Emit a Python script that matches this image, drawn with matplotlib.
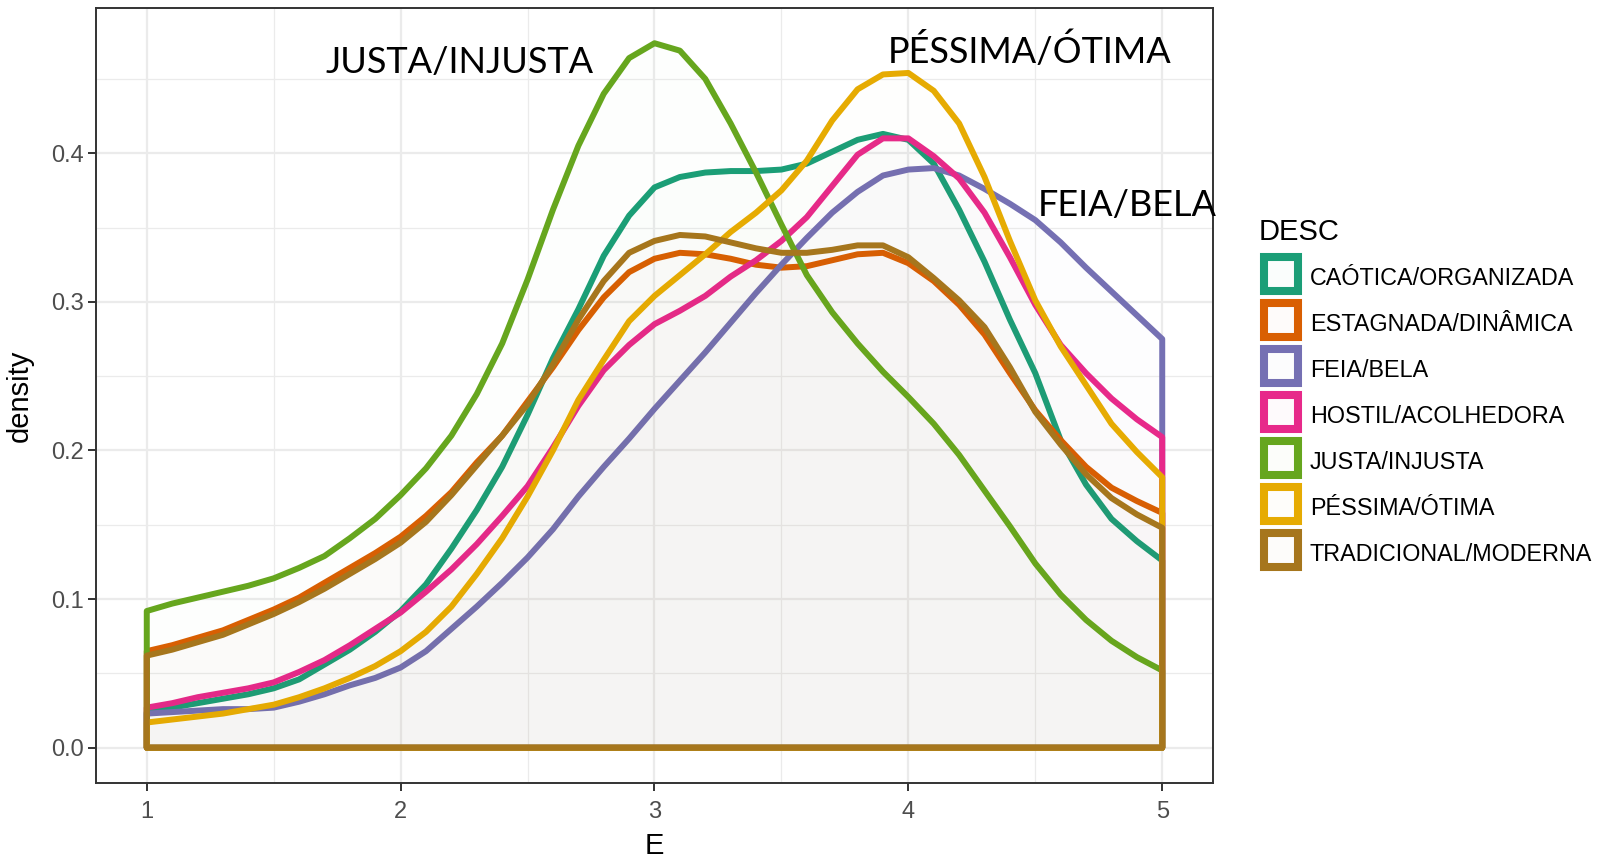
import matplotlib
matplotlib.use('Agg')
from matplotlib import pyplot as plt
from matplotlib.patches import Rectangle
from matplotlib.colors import to_rgba
from matplotlib.ticker import MultipleLocator, FormatStrFormatter

plt.rcParams['font.family'] = ['Liberation Sans', 'DejaVu Sans']

E = [1.0, 1.1, 1.2, 1.3, 1.4, 1.5, 1.6, 1.7, 1.8, 1.9,
     2.0, 2.1, 2.2, 2.3, 2.4, 2.5, 2.6, 2.7, 2.8, 2.9,
     3.0, 3.1, 3.2, 3.3, 3.4, 3.5, 3.6, 3.7, 3.8, 3.9,
     4.0, 4.1, 4.2, 4.3, 4.4, 4.5, 4.6, 4.7, 4.8, 4.9, 5.0]

desc = ['CAÓTICA/ORGANIZADA', 'ESTAGNADA/DINÂMICA', 'FEIA/BELA', 'HOSTIL/ACOLHEDORA',
        'JUSTA/INJUSTA', 'PÉSSIMA/ÓTIMA', 'TRADICIONAL/MODERNA']
colors = ['#1B9E77', '#D95F02', '#7570B3', '#E7298A', '#66A61E', '#E6AB02', '#A6761D']

caotica = [.024, .027, .030, .033, .036, .040, .046, .056, .066, .078,
           .092, .110, .134, .160, .189, .224, .262, .295, .331, .358,
           .377, .384, .387, .388, .388, .389, .393, .401, .409, .413,
           .409, .393, .362, .327, .288, .252, .207, .177, .154, .139, .126]
estagnada = [.065, .069, .074, .079, .086, .093, .101, .111, .121, .131,
             .142, .156, .172, .192, .210, .233, .256, .281, .303, .320,
             .329, .333, .332, .329, .325, .323, .324, .328, .332, .333,
             .326, .314, .298, .278, .252, .227, .207, .189, .175, .166, .158]
feia = [.023, .024, .025, .026, .026, .027, .031, .036, .042, .047,
        .054, .065, .080, .095, .111, .128, .147, .169, .189, .208,
        .228, .247, .266, .286, .306, .325, .343, .360, .374, .385,
        .389, .390, .385, .376, .366, .355, .340, .323, .307, .291, .275]
hostil = [.027, .030, .034, .037, .040, .044, .051, .059, .069, .080,
          .091, .105, .120, .137, .156, .176, .202, .230, .254, .271,
          .285, .294, .304, .317, .328, .341, .357, .378, .399, .410,
          .410, .398, .383, .360, .330, .298, .271, .252, .235, .221, .209]
justa = [.092, .097, .101, .105, .109, .114, .121, .129, .141, .154,
         .170, .188, .210, .238, .272, .315, .362, .405, .440, .464,
         .474, .469, .450, .420, .387, .352, .318, .293, .272, .253,
         .236, .218, .197, .173, .149, .124, .103, .086, .072, .061, .052]
pessima = [.017, .019, .021, .023, .026, .029, .034, .040, .047, .055,
           .065, .078, .095, .117, .141, .169, .200, .234, .261, .287,
           .304, .318, .332, .347, .360, .375, .395, .422, .443, .453,
           .454, .442, .420, .384, .341, .301, .270, .244, .218, .199, .182]
tradicional = [.062, .066, .071, .076, .083, .090, .098, .107, .117, .127,
               .138, .152, .170, .190, .210, .231, .258, .288, .314, .333,
               .341, .345, .344, .340, .336, .333, .333, .335, .338, .338,
               .330, .316, .301, .283, .256, .226, .204, .184, .168, .157, .148]
series = [caotica, estagnada, feia, hostil, justa, pessima, tradicional]

W, H = 1604, 865
fig = plt.figure(figsize=(W/100, H/100), dpi=100)
ax = fig.add_axes([96/W, 82/H, 1117/W, 775/H])

for d, col in zip(series, colors):
    xs = [E[0]] + E + [E[-1]]
    ys = [0] + d + [0]
    ax.fill(xs, ys, facecolor=to_rgba(col, 0.008), edgecolor=col, linewidth=4.3,
            joinstyle='round')

ax.set_xlim(0.8, 5.2)
ax.set_ylim(-0.0237, 0.4977)
ax.xaxis.set_major_locator(MultipleLocator(1))
ax.xaxis.set_minor_locator(MultipleLocator(0.5))
ax.yaxis.set_major_locator(MultipleLocator(0.1))
ax.yaxis.set_minor_locator(MultipleLocator(0.05))
ax.yaxis.set_major_formatter(FormatStrFormatter('%.1f'))
ax.set_axisbelow(True)
ax.grid(which='major', color='#EBEBEB', linewidth=1.6)
ax.grid(which='minor', color='#EBEBEB', linewidth=0.9)
ax.tick_params(which='major', direction='out', length=5.5, width=1.4, color='#333333',
               labelsize=17, labelcolor='#4D4D4D', pad=3.5)
ax.tick_params(axis='x', which='major', pad=7.8)
ax.tick_params(which='minor', length=0)
for s in ax.spines.values():
    s.set_color('#333333')
    s.set_linewidth(1.4)

ax.set_xlabel('E', fontsize=21)
ax.set_ylabel('density', fontsize=21)
ax.xaxis.set_label_coords(0.5, -0.063)
ax.yaxis.set_label_coords(-0.0555, 0.5)

# big labels pasted over the curves
ann = dict(fontsize=26, family=['Lato', 'DejaVu Sans'], va='baseline', ha='left', clip_on=False)
ax.text(1.705, 0.454, 'JUSTA/INJUSTA', **ann)
ax.text(3.919, 0.4605, 'PÉSSIMA/ÓTIMA', **ann)
ax.text(4.51, 0.358, 'FEIA/BELA', **ann)

# legend
fig.text(1259/W, 1 - 240/H, 'DESC', fontsize=21, va='baseline', ha='left')
for i, (lab, col) in enumerate(zip(desc, colors)):
    top = 253 + 46*i
    fig.add_artist(Rectangle((1264/W, 1 - (top + 38)/H), 34/W, 34/H, transform=fig.transFigure,
                             facecolor=to_rgba(col, 0.02), edgecolor=col, linewidth=5.8))
    fig.text(1310/W, 1 - (top + 32)/H, lab, fontsize=16.8, va='baseline', ha='left')

fig.savefig('out.png', dpi=100)
